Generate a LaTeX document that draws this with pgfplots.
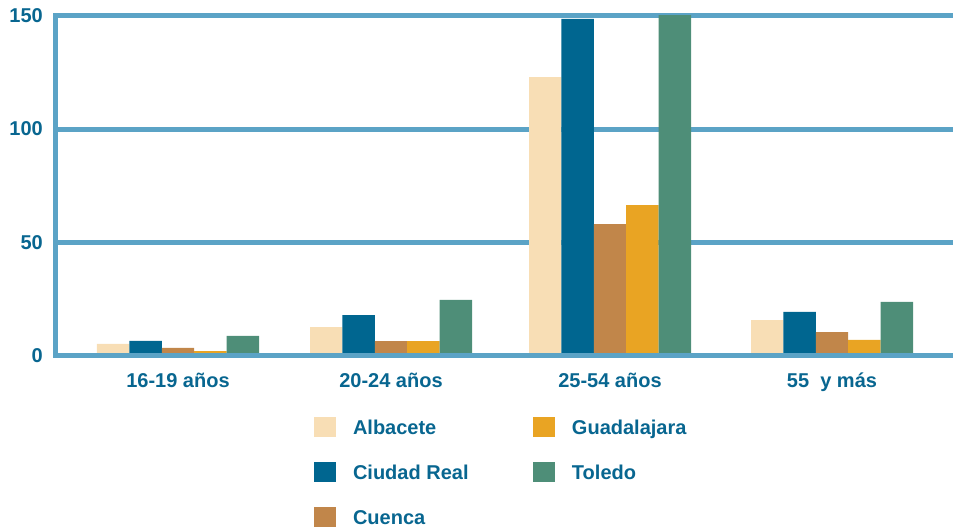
\documentclass[border=0pt]{standalone}
\usepackage{pgfplots}
\pgfplotsset{compat=1.18}
\usepackage{fontspec}
\setmainfont{Liberation Sans}
\definecolor{cAlb}{RGB}{248,222,181}
\definecolor{cCR}{RGB}{0,102,144}
\definecolor{cCue}{RGB}{193,134,74}
\definecolor{cGua}{RGB}{233,164,35}
\definecolor{cTol}{RGB}{78,142,120}
\definecolor{cGrid}{RGB}{91,163,198}
\definecolor{cText}{RGB}{8,102,144}
\begin{document}
\begin{tikzpicture}
\begin{axis}[
  at={(0,0)}, anchor=south west,
  scale only axis, width=897pt, height=339.3pt,
  xmin=56, xmax=953, ymin=0, ymax=150,
  ybar=0pt, bar width=32.4,
  axis lines*=left,
  axis line style={cGrid, line width=5pt, line cap=rect, -},
  ymajorgrids, grid style={cGrid, line width=5pt},
  ytick={0,50,100,150}, major tick length=0pt,
  xtick={178,391,610,832},
  xticklabels={16-19 años,20-24 años,25-54 años,55\ \ y más},
  tick label style={font=\fontsize{20}{24}\selectfont\bfseries, text=cText, inner sep=0pt},
  yticklabel style={anchor=east, xshift=-13pt},
  xticklabel style={anchor=base, yshift=-32.4pt},
  /pgf/number format/assume math mode=true,
  clip=false,
  legend style={
    at={(0.28763,-0.18185)}, anchor=north west, draw=none, fill=none,
    inner sep=0pt, outer sep=0pt,
    font=\fontsize{20}{24}\selectfont\bfseries, text=cText,
    nodes={inner sep=0pt, text height=14.5pt, text depth=0pt},
    column sep=17pt, row sep=25pt,
    /tikz/every even column/.append style={column sep=64.4pt},
  },
  legend cell align=left, legend columns=3, transpose legend,
  legend image code/.code={\fill[#1,draw=none] (0pt,-10pt) rectangle (22pt,10pt);},
]
\addplot[fill=cAlb, draw=none] coordinates {(178,5.0) (391,12.5) (610,123.0) (832,15.6)};
\addlegendentry{Albacete}
\addplot[fill=cCR, draw=none] coordinates {(178,6.4) (391,17.8) (610,148.7) (832,19.2)};
\addlegendentry{Ciudad Real}
\addplot[fill=cCue, draw=none] coordinates {(178,3.3) (391,6.3) (610,58.0) (832,10.3)};
\addlegendentry{Cuenca}
\addplot[fill=cGua, draw=none] coordinates {(178,1.9) (391,6.3) (610,66.4) (832,6.8)};
\addlegendentry{Guadalajara}
\addplot[fill=cTol, draw=none] coordinates {(178,8.6) (391,24.5) (610,150.4) (832,23.6)};
\addlegendentry{Toledo}
\draw[cGrid, line width=5pt, line cap=rect] (axis cs:56,0) -- (axis cs:953,0);
\end{axis}
\pgfresetboundingbox
\path[use as bounding box] (-56pt,-171.7pt) rectangle (897pt,355.3pt);
\end{tikzpicture}
\end{document}
